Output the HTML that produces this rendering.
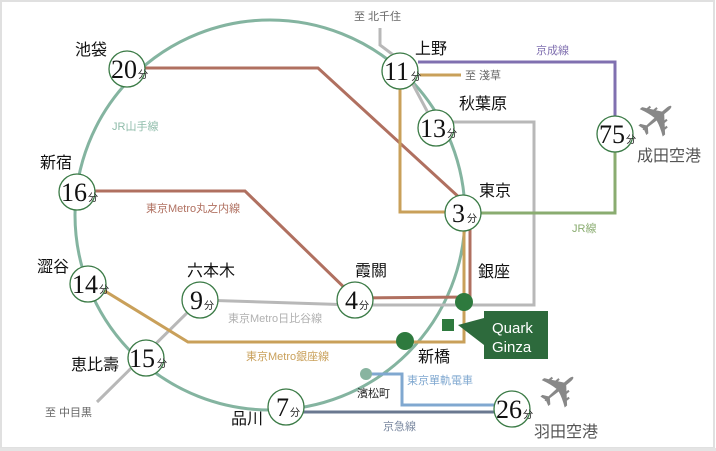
<!DOCTYPE html>
<html><head><meta charset="utf-8"><style>
html,body{margin:0;padding:0;background:#fff}
svg{display:block}
.n{font-family:"Liberation Serif",serif;font-size:26px;fill:#111}
.f{font-family:"Liberation Sans","Noto Sans CJK JP",sans-serif;font-size:10px;fill:#222}
.s{font-family:"Liberation Sans","Noto Sans CJK JP",sans-serif;font-size:16px;fill:#111}
.l{font-family:"Liberation Sans","Noto Sans CJK JP",sans-serif;font-size:11px}
</style></head><body>
<svg width="716" height="451" viewBox="0 0 716 451" xmlns="http://www.w3.org/2000/svg">
<rect x="1" y="1" width="713" height="447" fill="#fff" stroke="#e0e0e0" stroke-width="2"/>
<rect x="0" y="448" width="716" height="3" fill="#e4e4e4"/>
<circle cx="270" cy="215" r="195" fill="none" stroke="#84b4a0" stroke-width="3"/>
<polyline points="97,402 200,300 355,305 534,305 534,122 436,122" fill="none" stroke="#b8b8b8" stroke-width="3"/>
<polyline points="380,28 380,45 400,60 436,128" fill="none" stroke="#b8b8b8" stroke-width="3"/>
<polyline points="145,68 318,68 462,200" fill="none" stroke="#b07060" stroke-width="3"/>
<polyline points="95,191 245,191 355,298 470,297 470,222" fill="none" stroke="#b07060" stroke-width="3"/>
<polyline points="100,288 188,342 464,342 464,222" fill="none" stroke="#c9a05a" stroke-width="3"/>
<polyline points="400,88 400,212 445,212" fill="none" stroke="#c9a05a" stroke-width="3"/>
<line x1="420" y1="75" x2="461" y2="75" stroke="#c9a05a" stroke-width="3"/>
<polyline points="480,213 615,213 615,152" fill="none" stroke="#8aac70" stroke-width="3"/>
<polyline points="418,62 615,62 615,117" fill="none" stroke="#8070b0" stroke-width="3"/>
<polyline points="366,374 402,374 402,405 495,405" fill="none" stroke="#80a8d0" stroke-width="3"/>
<line x1="303" y1="412" x2="495" y2="412" stroke="#6a7890" stroke-width="3"/>
<g fill="#fff" stroke="#3a7a45" stroke-width="1.3">
<circle cx="127" cy="69" r="18"/><circle cx="77" cy="192" r="18"/><circle cx="88" cy="284" r="18"/>
<circle cx="146" cy="358" r="18"/><circle cx="286" cy="407" r="18"/><circle cx="200" cy="300" r="18"/>
<circle cx="355" cy="300" r="18"/><circle cx="400" cy="71" r="18"/><circle cx="436" cy="128" r="18"/>
<circle cx="463" cy="213" r="18"/><circle cx="615" cy="134" r="18"/><circle cx="512" cy="409" r="18"/>
</g>
<circle cx="464" cy="302" r="9" fill="#2e7a3e"/>
<circle cx="405" cy="341" r="9" fill="#2e7a3e"/>
<circle cx="366" cy="374" r="6" fill="#88b4a0"/>
<rect x="442" y="319" width="12" height="12" fill="#2e7a3e"/>
<polygon points="458,325 484,318 484,345" fill="#2d6a3c"/>
<rect x="484" y="311" width="64" height="48" fill="#2d6a3c"/>
<text x="492" y="333" font-family="Liberation Sans,sans-serif" font-size="15" fill="#fff">Quark</text>
<text x="492" y="352" font-family="Liberation Sans,sans-serif" font-size="15" fill="#fff">Ginza</text>
<text class="n" x="111" y="78">20</text><text class="f" x="138" y="78">分</text>
<text class="n" x="61" y="201">16</text><text class="f" x="88" y="201">分</text>
<text class="n" x="72" y="293">14</text><text class="f" x="99" y="293">分</text>
<text class="n" x="129" y="367">15</text><text class="f" x="157" y="367">分</text>
<text class="n" x="276" y="416">7</text><text class="f" x="290" y="416">分</text>
<text class="n" x="190" y="309">9</text><text class="f" x="204" y="309">分</text>
<text class="n" x="345" y="309">4</text><text class="f" x="359" y="309">分</text>
<text class="n" x="384" y="80">11</text><text class="f" x="411" y="80">分</text>
<text class="n" x="420" y="137">13</text><text class="f" x="447" y="137">分</text>
<text class="n" x="452" y="222">3</text><text class="f" x="467" y="222">分</text>
<text class="n" x="599" y="143">75</text><text class="f" x="626" y="143">分</text>
<text class="n" x="496" y="418">26</text><text class="f" x="523" y="418">分</text>
<text class="s" x="75" y="55">池袋</text>
<text class="s" x="40" y="168">新宿</text>
<text class="s" x="37" y="272">澀谷</text>
<text class="s" x="71" y="370">恵比壽</text>
<text class="s" x="231" y="424">品川</text>
<text class="s" x="187" y="276">六本木</text>
<text class="s" x="355" y="276">霞關</text>
<text class="s" x="415" y="54">上野</text>
<text class="s" x="459" y="109">秋葉原</text>
<text class="s" x="479" y="196">東京</text>
<text class="s" x="478" y="277">銀座</text>
<text class="s" x="418" y="362">新橋</text>
<text class="f" x="357" y="397" style="font-size:11px">濱松町</text>
<text class="s" x="637" y="161" style="fill:#555">成田空港</text>
<text class="s" x="534" y="437" style="fill:#555">羽田空港</text>
<text class="l" x="112" y="130" fill="#8fbcaa">JR山手線</text>
<text class="l" x="146" y="212" fill="#b07060">東京Metro丸之内線</text>
<text class="l" x="228" y="322" fill="#b0b0b0">東京Metro日比谷線</text>
<text class="l" x="246" y="360" fill="#c9a05a">東京Metro銀座線</text>
<text class="l" x="407" y="384" fill="#80a8d0">東京單軌電車</text>
<text class="l" x="383" y="430" fill="#7a88a0">京急線</text>
<text class="l" x="536" y="54" fill="#8070b0">京成線</text>
<text class="l" x="572" y="232" fill="#8aac70">JR線</text>
<text class="l" x="354" y="20" fill="#666">至 北千住</text>
<text class="l" x="465" y="79" fill="#666">至 淺草</text>
<text class="l" x="45" y="416" fill="#666">至 中目黒</text>
<text x="660" y="122" font-family="DejaVu Sans,sans-serif" font-size="52" fill="#888" text-anchor="middle" dominant-baseline="middle" transform="rotate(-40 660 122)">✈</text>
<text x="562" y="393" font-family="DejaVu Sans,sans-serif" font-size="52" fill="#888" text-anchor="middle" dominant-baseline="middle" transform="rotate(-40 562 393)">✈</text>
</svg>
</body></html>
